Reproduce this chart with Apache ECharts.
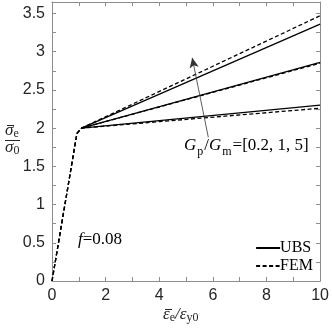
<!DOCTYPE html>
<html>
<head>
<meta charset="utf-8">
<script src="https://cdn.jsdelivr.net/npm/echarts@6/dist/echarts.min.js"></script>
<style>
html,body{margin:0;padding:0;background:#fff;}
#main{width:332px;height:332px;}
</style>
</head>
<body>
<div id="main"></div>
<script>
// elastic part (FEM) and yield kink
var elasticX = [0, 0.93, 1.1];
var elasticY = [0, 1.93, 2.0];
// end values at strain = 10 for Gp/Gm = 0.2, 1, 5
var endX = 10;
var ubsEnd = [2.30, 2.86, 3.36];
var femEnd = [2.26, 2.85, 3.47];
var xTicks = [0, 2, 4, 6, 8, 10];
var yTicks = [0, 0.5, 1, 1.5, 2, 2.5, 3, 3.5];
var arrowFrom = [5.83, 1.88];
var arrowTo = [5.23, 2.92];

var myChart = echarts.init(document.getElementById('main'));
var serif = 'Liberation Serif';
var sans = 'Liberation Sans';
var ink = '#262626';

var series = [];
ubsEnd.forEach(function (v) {
	series.push({
		name: 'UBS', type: 'line', symbol: 'none',
		lineStyle: {color: '#000', width: 1.3, type: 'solid'},
		itemStyle: {color: '#000'},
		data: [[elasticX[2], elasticY[2]], [endX, v]]
	});
});
femEnd.forEach(function (v) {
	var pts = [];
	for (var i = 0; i < elasticX.length; i++) pts.push([elasticX[i], elasticY[i]]);
	pts.push([endX, v]);
	series.push({
		name: 'FEM', type: 'line', symbol: 'none',
		lineStyle: {color: '#000', width: 1.3, type: [4, 2.5]},
		itemStyle: {color: '#000'},
		data: pts
	});
});
series.push({
	type: 'line', data: [], silent: true,
	markLine: {
		silent: true, symbol: ['none', 'arrow'], symbolSize: [7, 10],
		label: {show: false},
		lineStyle: {color: '#333', width: 0.8, type: 'solid'},
		data: [[{coord: arrowFrom}, {coord: arrowTo}]]
	}
});

var axisCommon = {
	axisLine: {show: true, onZero: false, lineStyle: {color: '#8c8c8c', width: 1}},
	axisTick: {show: true, inside: true, length: 4, lineStyle: {color: '#8c8c8c'}},
	minorTick: {show: true, splitNumber: 2, length: 4, lineStyle: {color: '#8c8c8c'}},
	splitLine: {show: false}
};

var sub = function (size, pad) {
	return {fontFamily: serif, fontSize: size, fill: ink, padding: [pad, 0, 0, 0]};
};
var ital = {fontFamily: serif, fontStyle: 'italic', fontSize: 17, fill: ink};

var option = {
	animation: false,
	grid: {left: 52, right: 10, top: 2, bottom: 51},
	xAxis: [
		Object.assign({}, axisCommon, {
			type: 'value', min: xTicks[0], max: xTicks[xTicks.length - 1], interval: 2,
			axisLabel: {color: ink, fontFamily: sans, fontSize: 16, margin: 7}
		}),
		Object.assign({}, axisCommon, {
			type: 'value', position: 'top', min: 0, max: 10, interval: 2,
			axisLabel: {show: false}
		})
	],
	yAxis: [
		Object.assign({}, axisCommon, {
			type: 'value', min: yTicks[0], max: 3.65, interval: 0.5,
			axisLabel: {color: ink, fontFamily: sans, fontSize: 16, margin: 7,
				formatter: function (v) { return yTicks.indexOf(v) >= 0 ? String(v) : ''; }}
		}),
		Object.assign({}, axisCommon, {
			type: 'value', position: 'right', min: 0, max: 3.65, interval: 0.5,
			axisLabel: {show: false}
		})
	],
	legend: {
		data: ['UBS', 'FEM'], orient: 'vertical', right: 14, top: 235,
		itemWidth: 24, itemHeight: 10, itemGap: 2,
		itemStyle: {opacity: 0},
		textStyle: {fontFamily: serif, fontSize: 16, color: '#000', padding: [0, 0, 0, -5]}
	},
	graphic: [
		// y axis name: fraction
		{type: 'text', left: 5, top: 122, style: {
			text: '{a|σ}{s|e}', rich: {a: ital, s: sub(12, 7)}}},
		{type: 'line', shape: {x1: 7, y1: 125.5, x2: 14, y2: 125.5}, style: {stroke: ink, lineWidth: 1}},
		{type: 'line', shape: {x1: 5, y1: 140.5, x2: 20, y2: 140.5}, style: {stroke: ink, lineWidth: 1}},
		{type: 'text', left: 5, top: 139, style: {
			text: '{a|σ}{s|0}', rich: {a: ital, s: sub(12, 7)}}},
		// x axis name
		{type: 'text', left: 163, top: 306, style: {
			text: '{a|ε}{s|e}{a|/ε}{s|y0}', rich: {a: ital, s: sub(12, 7)}}},
		{type: 'line', shape: {x1: 165, y1: 309.5, x2: 172, y2: 309.5}, style: {stroke: ink, lineWidth: 1}},
		{type: 'text', left: 78, top: 231, style: {
			text: '{i|f}{n|=0.08}', rich: {
				i: {fontFamily: serif, fontStyle: 'italic', fontSize: 17, fill: '#000'},
				n: {fontFamily: serif, fontSize: 17, fill: '#000'}
			}}},
		{type: 'text', left: 184, top: 137, style: {
			text: '{i|G}{s|p}{n|/}{i|G}{s|m}{n|=[0.2, 1, 5]}', rich: {
				i: {fontFamily: serif, fontStyle: 'italic', fontSize: 17, fill: '#000'},
				s: {fontFamily: serif, fontSize: 12, fill: '#000', padding: [13, 1, 0, 1]},
				n: {fontFamily: serif, fontSize: 17, fill: '#000'}
			}}}
	],
	series: series
};
myChart.setOption(option);
</script>
</body>
</html>
